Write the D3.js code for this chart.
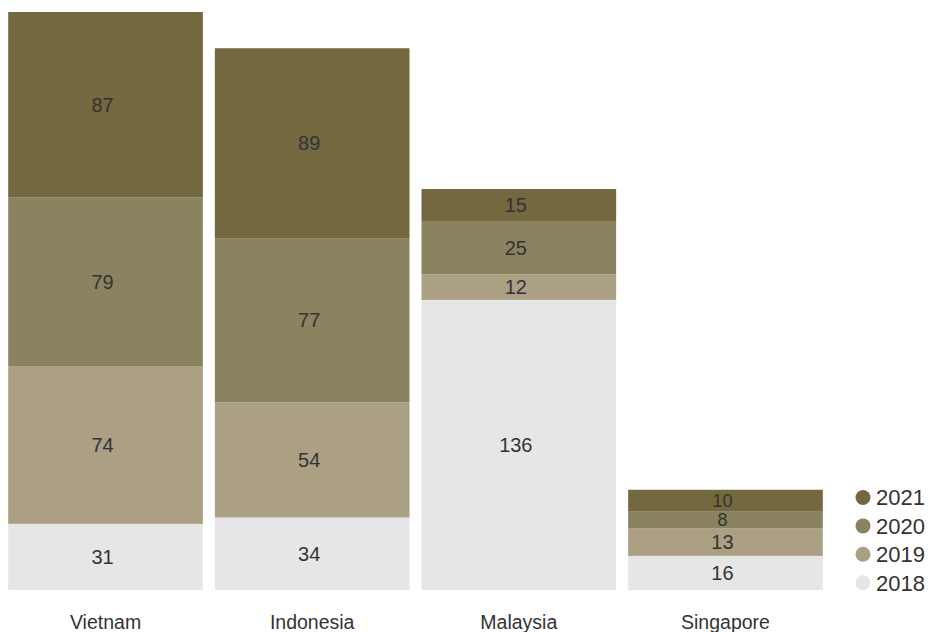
<!DOCTYPE html>
<html><head><meta charset="utf-8">
<script src="https://cdn.jsdelivr.net/npm/d3@7"></script>
<style>body{margin:0;background:#fff;} text{font-family:"Liberation Sans", Arial, sans-serif;}</style>
</head><body>
<svg id="c" width="934" height="632"></svg>
<script>
const countries = ["Vietnam","Indonesia","Malaysia","Singapore"];
const years = ["2018","2019","2020","2021"];
const v2018 = [31,34,136,16];
const v2019 = [74,54,12,13];
const v2020 = [79,77,25,8];
const v2021 = [87,89,15,10];
const colors = ["#e6e6e6","#aba083","#8b8360","#746840"];

const rows = countries.map((c,i)=>({country:c,"2018":v2018[i],"2019":v2019[i],"2020":v2020[i],"2021":v2021[i]}));
const series = d3.stack().keys(years)(rows);
const svg = d3.select("#c");
const x = d3.scaleBand().domain(countries).range([2,829]).paddingInner(0.058).paddingOuter(0.03);
const y = d3.scaleLinear().domain([0,271]).range([590,12]);
const color = d3.scaleOrdinal().domain(years).range(colors);

const g = svg.append("g");
series.forEach(s=>{
  const gg = g.append("g").attr("fill", color(s.key));
  gg.selectAll("rect").data(s).join("rect")
    .attr("x", d=>x(d.data.country)).attr("width", x.bandwidth())
    .attr("y", d=>y(d[1])).attr("height", d=>y(d[0])-y(d[1]));
  g.append("g").selectAll("text").data(s).join("text")
    .attr("x", d=>x(d.data.country)+x.bandwidth()/2-3)
    .attr("y", d=>(y(d[0])+y(d[1]))/2)
    .attr("dy","0.35em").attr("text-anchor","middle")
    .attr("font-size",d=>(y(d[0])-y(d[1]))<22?18:20).attr("fill","#333")
    .text(d=>d[1]-d[0]);
});

const xAxis = svg.append("g").attr("transform","translate(0,590)")
  .call(d3.axisBottom(x).tickSize(0).tickPadding(25));
xAxis.select(".domain").remove();
xAxis.selectAll("text").attr("font-size",19.5).attr("fill","#333")
  .attr("font-family","'Liberation Sans', Arial, sans-serif");

const leg = svg.append("g");
const legYears = years.slice().reverse();
legYears.forEach((yr,i)=>{
  const ly = 497.5 + i*28.4;
  leg.append("circle").attr("cx",863).attr("cy",ly).attr("r",7.5).attr("fill",color(yr));
  leg.append("text").attr("x",876).attr("y",ly).attr("dy","0.36em").attr("font-size",22).attr("fill","#333").text(yr);
});
</script>
</body></html>
